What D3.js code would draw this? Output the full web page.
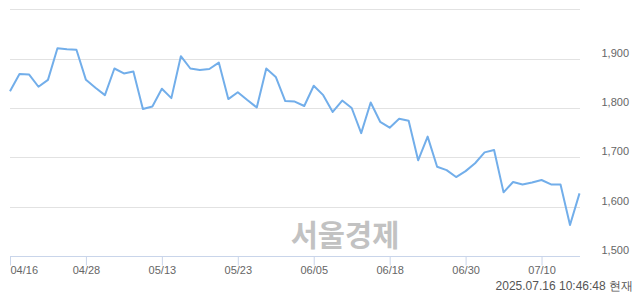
<!DOCTYPE html>
<html><head><meta charset="utf-8">
<script src="https://cdn.jsdelivr.net/npm/d3@7"></script>
<style>
html,body{margin:0;padding:0;background:#fff;}
svg{display:block;}
</style></head>
<body>
<svg id="c" width="640" height="294"></svg>
<script>
const dates = ["04/16","04/17","04/18","04/21","04/22","04/23","04/24","04/25","04/28","04/29","04/30",
"05/02","05/07","05/08","05/09","05/12","05/13","05/14","05/15","05/16","05/19","05/20","05/21","05/22","05/23","05/26","05/27","05/28","05/29","05/30",
"06/02","06/04","06/05","06/09","06/10","06/11","06/12","06/13","06/16","06/17","06/18","06/19","06/20","06/23","06/24","06/25","06/26","06/27","06/30",
"07/01","07/02","07/03","07/04","07/07","07/08","07/09","07/10","07/11","07/14","07/15","07/16"];
const prices = [1834,1869,1868,1843,1857,1921,1919,1918,1857,1841,1826,1880,1870,1874,1798,1803,1839,1820,1905,1880,1877,1879,1892,1818,1832,1816,1801,1880,1863,1814,1813,1804,1845,1826,1792,1815,1800,1749,1811,1772,1760,1778,1774,1694,1742,1681,1674,1660,1672,1688,1710,1715,1629,1650,1645,1649,1654,1645,1645,1563,1627];
const xTickLabels = ["04/16","04/28","05/13","05/23","06/05","06/18","06/30","07/10"];
const yGridValues = [1500,1600,1700,1800,1900,2000];
const yLabelValues = [1500,1600,1700,1800,1900];
const watermark = "서울경제";
const stamp = "2025.07.16 10:46:48 현재";

const svg = d3.select("#c");
const x = d3.scalePoint().domain(dates).range([10, 579.5]);
const y = d3.scaleLinear().domain([1500, 2000]).range([256, 9.3]);
const font = "'Liberation Sans', Arial, sans-serif";

// gridlines
svg.append("g").selectAll("line").data(yGridValues.filter(v => v !== 1500)).join("line")
  .attr("x1", 10).attr("x2", 580)
  .attr("y1", d => Math.round(y(d)) + 0.5).attr("y2", d => Math.round(y(d)) + 0.5)
  .attr("stroke", "#e2e2e2").attr("stroke-width", 1);

// watermark
svg.append("text").attr("x", 345).attr("y", 246)
  .attr("text-anchor", "middle")
  .attr("font-family", "'Noto Sans CJK KR', sans-serif")
  .attr("font-weight", "bold").attr("font-size", 29.5)
  .attr("fill", "#c2c2c2").text(watermark);

// x axis
const xAxis = d3.axisBottom(x).tickValues(xTickLabels).tickSize(9).tickPadding(2);
const gx = svg.append("g").attr("transform", "translate(0,256.5)").call(xAxis);
gx.select(".domain").attr("d", "M10,0H580").attr("stroke", "#c9d5ea");
gx.selectAll(".tick line").attr("stroke", "#c9d5ea");
gx.selectAll(".tick text").attr("font-family", font).attr("font-size", 11)
  .attr("fill", "#666").attr("dy", "0.55em")
  .attr("text-anchor", (d, i) => i === 0 ? "start" : "middle");

// y labels
const fmt = d3.format(",");
svg.append("g").selectAll("text").data(yLabelValues).join("text")
  .attr("x", 629).attr("y", d => y(d) - 2)
  .attr("text-anchor", "end")
  .attr("font-family", font).attr("font-size", 11).attr("fill", "#666")
  .text(d => fmt(d));

// line
const line = d3.line().x((d, i) => x(dates[i])).y(d => y(d));
svg.append("path").datum(prices)
  .attr("d", line).attr("fill", "none")
  .attr("stroke", "#72aeea").attr("stroke-width", 2)
  .attr("stroke-linejoin", "round");

// timestamp
svg.append("text").attr("x", 633).attr("y", 290)
  .attr("text-anchor", "end")
  .attr("font-family", font).attr("font-size", 12).attr("fill", "#555")
  .text(stamp);
</script>
</body></html>
